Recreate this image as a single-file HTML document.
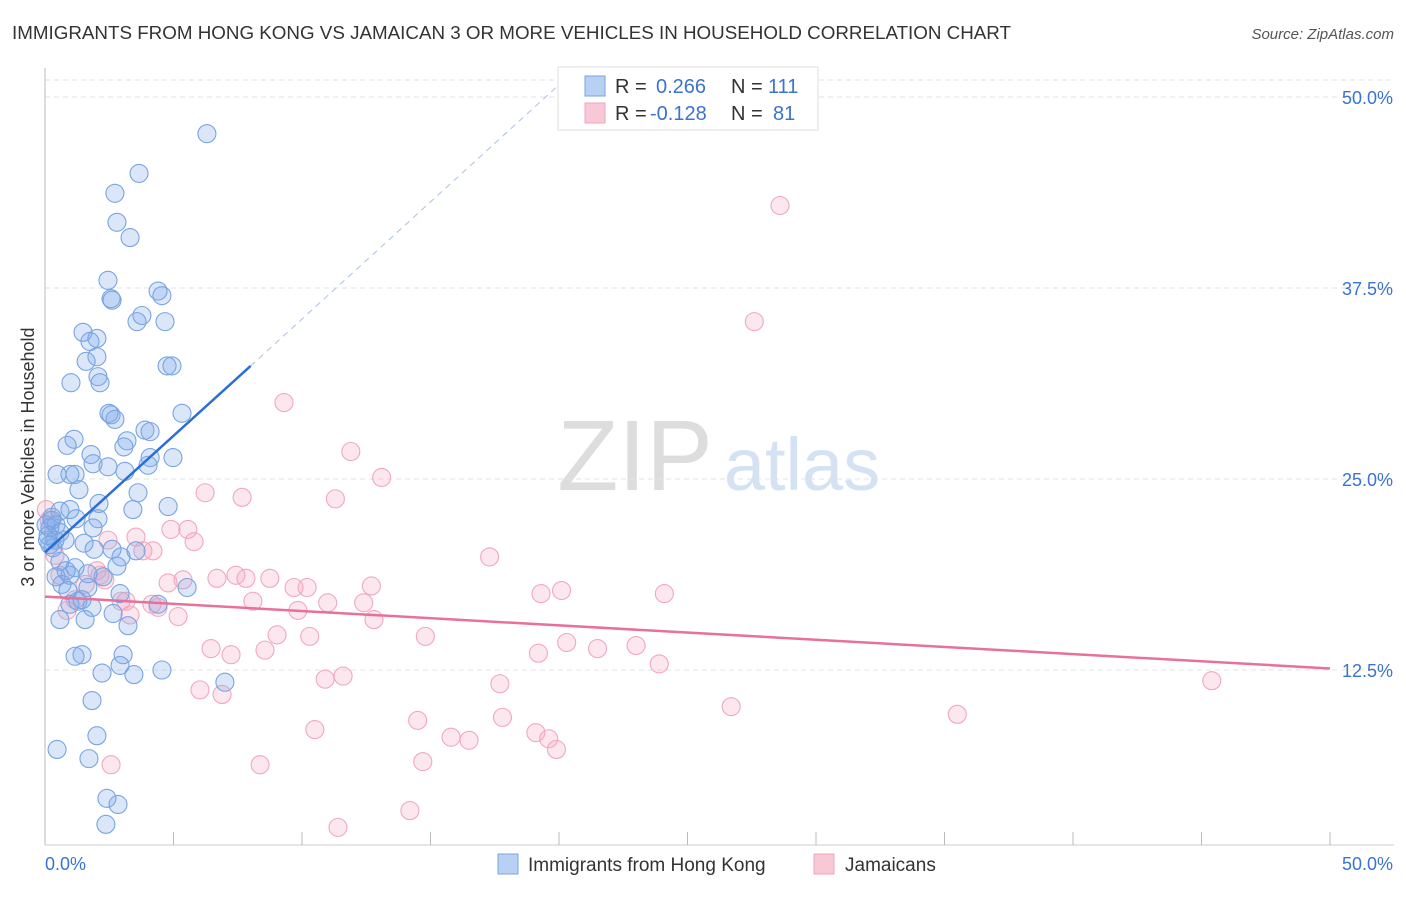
<!DOCTYPE html>
<html><head><meta charset="utf-8">
<style>
body{margin:0;background:#fff;font-family:"Liberation Sans",sans-serif}
svg text{font-family:"Liberation Sans",sans-serif}
</style></head>
<body>
<svg id="chart" width="1406" height="892" xmlns="http://www.w3.org/2000/svg">
<text x="12" y="39" font-size="18.8" fill="#333">IMMIGRANTS FROM HONG KONG VS JAMAICAN 3 OR MORE VEHICLES IN HOUSEHOLD CORRELATION CHART</text>
<text x="1394" y="39" font-size="15" fill="#555" text-anchor="end" font-style="italic">Source: ZipAtlas.com</text>
<g>
<text x="635" y="490" font-size="100" fill="#ddd" text-anchor="middle" font-family="Liberation Serif">ZIP</text>
<text x="802" y="490" font-size="74" fill="#d4e2f4" text-anchor="middle">atlas</text>
</g>
<g id="grid"></g>
<g id="axes"></g>
<g id="marks"></g>
<g id="trends"></g>
<text transform="translate(34,457) rotate(-90)" font-size="18" fill="#333" text-anchor="middle">3 or more Vehicles in Household</text>
<g>
<rect x="558" y="67" width="260" height="63" fill="#fff" stroke="#ddd"/>
<rect x="585" y="76" width="20" height="20" fill="#b8d0f4" stroke="#7aa3e0"/>
<rect x="585" y="103" width="20" height="20" fill="#f8c8d6" stroke="#eea6bc"/>
<text x="615" y="93" font-size="20" fill="#333">R =</text>
<text x="656" y="93" font-size="20" fill="#3a73d0">0.266</text>
<text x="731" y="93" font-size="20" fill="#333">N =</text>
<text x="768" y="93" font-size="20" fill="#3a73d0">111</text>
<text x="615" y="120" font-size="20" fill="#333">R =</text>
<text x="650" y="120" font-size="20" fill="#3a73d0">-0.128</text>
<text x="731" y="120" font-size="20" fill="#333">N =</text>
<text x="773" y="120" font-size="20" fill="#3a73d0">81</text>
</g>
<g>
<rect x="498" y="854" width="20" height="20" fill="#b8d0f4" stroke="#7aa3e0"/>
<text x="528" y="871" font-size="19" fill="#333">Immigrants from Hong Kong</text>
<rect x="814" y="854" width="20" height="20" fill="#f8c8d6" stroke="#eea6bc"/>
<text x="845" y="871" font-size="19" fill="#333">Jamaicans</text>
</g>
</svg>
<script>
const blueX=[6.3,3.66,2.72,2.8,3.31,2.45,2.57,2.61,4.4,4.55,3.77,3.58,4.67,1.48,2.02,1.75,2.02,1.6,1.01,2.06,2.14,4.75,4.94,2.49,2.57,2.72,5.33,3.89,4.09,1.13,3.19,3.07,0.86,1.79,1.87,4.98,4.09,2.45,4.01,3.11,0.47,0.97,1.17,1.32,3.62,3.42,4.79,2.1,0.97,0.58,0.27,1.21,2.06,0.43,0.19,1.87,0.58,0.39,0.78,0.19,1.52,1.91,2.96,3.54,0.58,1.17,2.8,0.97,2.26,0.66,0.89,1.67,1.28,0.97,1.83,1.56,2.65,3.23,4.4,5.53,1.17,1.44,3.04,2.92,2.22,3.46,4.55,7.0,1.83,2.02,0.47,1.71,2.41,2.84,2.37,0.04,0.27,0.12,0.31,2.61,1.44,0.43,0.82,1.67,2.92,0.1,0.58];
const blueY=[47.6,45.0,43.7,41.8,40.8,38.0,36.8,36.7,37.3,37.0,35.7,35.3,35.3,34.6,34.2,34.0,33.0,32.7,31.3,31.7,31.3,32.4,32.4,29.3,29.2,28.9,29.3,28.2,28.1,27.6,27.5,27.1,27.2,26.6,26.0,26.4,26.4,25.8,25.9,25.5,25.3,25.3,25.3,24.3,24.1,23.0,23.2,23.4,23.0,22.9,22.5,22.4,22.4,22.0,21.8,21.8,21.5,21.0,21.0,20.7,20.8,20.4,19.9,20.3,19.6,19.2,19.3,18.7,18.6,18.1,17.7,17.9,17.0,16.8,16.6,15.8,16.2,15.4,16.8,17.9,13.4,13.5,13.5,12.8,12.3,12.2,12.5,11.7,10.5,8.2,7.3,6.7,4.1,3.7,2.4,22.0,22.3,21.3,20.5,20.4,17.1,18.6,19.0,18.8,17.5,21.0,15.8];
const pinkX=[28.6,27.6,9.3,11.9,13.1,6.23,7.67,11.3,3.54,2.45,4.9,5.56,5.8,4.2,3.81,17.3,0.16,0.05,0.39,0.58,0.86,2.14,2.33,2.96,3.15,3.31,4.79,5.37,6.69,7.43,7.82,8.75,9.69,10.2,12.7,19.3,20.1,24.1,8.09,9.84,11.0,12.4,12.8,5.18,4.16,4.4,9.03,10.3,14.8,20.3,21.5,23.0,23.9,6.46,7.24,8.56,19.2,10.9,11.6,17.7,6.03,6.89,10.5,14.5,17.8,15.8,16.5,19.1,19.6,19.9,26.7,35.5,45.4,2.57,8.37,14.7,14.2,11.4,1.17,1.56,2.02];
const pinkY=[42.9,35.3,30.0,26.8,25.1,24.1,23.8,23.7,21.2,21.0,21.7,21.7,20.9,20.3,20.3,19.9,22.3,23.0,20.0,18.7,16.4,18.7,18.4,17.0,17.0,16.1,18.2,18.4,18.5,18.7,18.5,18.5,17.9,17.9,18.0,17.5,17.7,17.5,17.0,16.4,16.9,16.9,15.8,16.0,16.8,16.6,14.8,14.7,14.7,14.3,13.9,14.1,12.9,13.9,13.5,13.8,13.6,11.9,12.1,11.6,11.2,10.9,8.6,9.2,9.4,8.1,7.9,8.4,8.0,7.3,10.1,9.6,11.8,6.3,6.3,6.5,3.3,2.2,17.1,18.1,19.0];
const yTicks=[12.5,25.0,37.5,50.0];
const xTickLabels=["0.0%","50.0%"];
const blueTrend=[[0,20.2],[8.0,32.4]];
const blueDash=[[8.0,32.4],[20.0,50.8]];
const pinkTrend=[[0,17.3],[50,12.6]];

const X0=45,X1=1330,YB=861,YT=97;
const sx=v=>X0+(X1-X0)*v/50;
const sy=v=>YB-(YB-YT)*v/50;
const NS='http://www.w3.org/2000/svg';
function mk(tag,attrs,parent){const e=document.createElementNS(NS,tag);for(const k in attrs)e.setAttribute(k,attrs[k]);parent.appendChild(e);return e;}
const grid=document.getElementById('grid'),axes=document.getElementById('axes'),marks=document.getElementById('marks'),trends=document.getElementById('trends');
let tl=mk('line',{x1:X0,x2:1394,y1:80,y2:80,stroke:'#e3e3e3','stroke-dasharray':'5,4'},grid);


yTicks.forEach(t=>{
 const g=mk('line',{x1:X0,x2:1394,y1:sy(t),y2:sy(t),stroke:'#e3e3e3','stroke-dasharray':'5,4'},grid);
 
 
 const tx=mk('text',{x:1393,y:sy(t)+7,'font-size':18,fill:'#3a73d0','text-anchor':'end'},axes);
 tx.textContent=t.toFixed(1)+'%';
 
 
});
let ax=mk('line',{x1:X0,x2:X0,y1:68,y2:845,stroke:'#bbb'},axes);


let bx=mk('line',{x1:X0,x2:1394,y1:845,y2:845,stroke:'#ccc'},axes);


for(let i=0;i<=10;i++){
 const t=mk('line',{x1:sx(i*5),x2:sx(i*5),y1:832,y2:845,stroke:'#bbb'},axes);
 
 
}
const xl0=mk('text',{x:45,y:870,'font-size':18,fill:'#3a73d0'},axes);xl0.textContent=xTickLabels[0];


const xl1=mk('text',{x:1393,y:870,'font-size':18,fill:'#3a73d0','text-anchor':'end'},axes);xl1.textContent=xTickLabels[1];


function dots(xs,ys,fill,stroke,name){
 xs.forEach((x,i)=>{
  const c=mk('circle',{cx:sx(x),cy:sy(ys[i]),r:9,fill:fill,stroke:stroke,'stroke-width':1.1},marks);
  
  
 });
}
dots(pinkX,pinkY,'rgba(244,165,192,0.27)','#f0a8be','jamaican-point');
dots(blueX,blueY,'rgba(125,170,235,0.28)','#78a4e2','hong-kong-point');
function line(p,stroke,w,dash,name){
 const l=mk('line',{x1:sx(p[0][0]),y1:sy(p[0][1]),x2:sx(p[1][0]),y2:sy(p[1][1]),stroke:stroke,'stroke-width':w},trends);
 if(dash)l.setAttribute('stroke-dasharray',dash);
 
 
}
line(blueDash,'#a8c0e8',1,'6,5','hong-kong-trend-extension');
line(blueTrend,'#2a6fd6',2.5,null,'hong-kong-trend-line');
line(pinkTrend,'#e8709a',2.5,null,'jamaican-trend-line');
</script>
</body></html>
